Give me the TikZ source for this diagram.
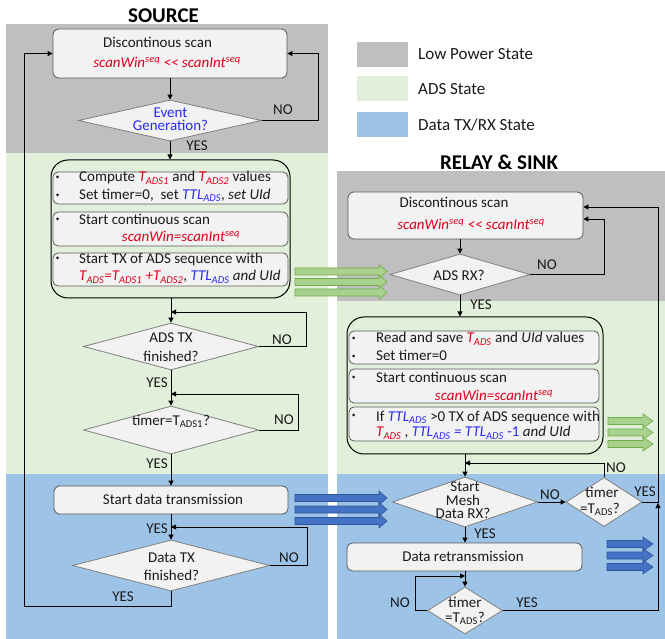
\documentclass[tikz,border=0pt]{standalone}
\usepackage{fontspec}
\setmainfont{Carlito}
\usetikzlibrary{shapes.geometric,arrows.meta}
\definecolor{lpgray}{HTML}{BFBFBF}
\definecolor{adsgreen}{HTML}{E2EFDA}
\definecolor{dtblue}{HTML}{9DC3E6}
\definecolor{boxfill}{HTML}{F2F2F2}
\definecolor{boxline}{HTML}{595959}
\definecolor{dmline}{HTML}{7F7F7F}
\definecolor{txtred}{HTML}{E0001B}
\definecolor{txtblue}{HTML}{2A2AF5}
\definecolor{txtdark}{HTML}{1A1A1A}
\definecolor{garrfill}{HTML}{A9D18E}
\definecolor{garrline}{HTML}{70AD47}
\definecolor{barrfill}{HTML}{4472C4}
\definecolor{barrline}{HTML}{2F5597}
\newcommand{\rT}[1]{\textcolor{txtred}{\itshape T\textsubscript{#1}}}
\newcommand{\bTTL}{\textcolor{txtblue}{\itshape TTL\textsubscript{ADS}}}
\newcommand{\scanred}{\textcolor{txtred}{\itshape scanWin\textsuperscript{seq} <\kern0pt< scanInt\textsuperscript{seq}}}
\newcommand{\scaneq}{\textcolor{txtred}{\itshape scanWin=scanInt\textsuperscript{seq}}}
\newcommand{\blockarrow}[5]{%
  \filldraw[#5] (#1,#4-3.5) -- (#2,#4-3.5) -- (#2,#4-7) -- (#3,#4) -- (#2,#4+7) -- (#2,#4+3.5) -- (#1,#4+3.5) -- cycle;}
\begin{document}
\begin{tikzpicture}[x=1pt,y=-1pt,
  proc/.style={draw=boxline, fill=boxfill, rounded corners=6pt, line width=0.8pt, inner sep=0},
  grpbox/.style={draw=black, rounded corners=17pt, line width=1pt, inner sep=0},
  dec/.style={diamond, draw=dmline, fill=boxfill, line width=0.8pt, inner sep=0},
  txt/.style={inner sep=0, text height=11pt, text depth=2pt, font=\fontsize{15}{18}\selectfont, text=txtdark},
  bul/.style={circle, fill=txtdark, inner sep=0, minimum size=3pt},
  lgd/.style={inner sep=0, anchor=west, font=\fontsize{17}{20}\selectfont, text=txtdark},
  ttl/.style={inner sep=0, font=\fontsize{21}{24}\selectfont\bfseries},
  arr/.style={draw=black, line width=0.9pt, -{Triangle[length=5pt,width=5pt]}},
  garr/.style={fill=garrfill, draw=garrline, line width=0.6pt},
  barr/.style={fill=barrfill, draw=barrline, line width=0.6pt}]
\useasboundingbox (0,0) rectangle (665,639);
% backgrounds
\fill[lpgray] (6,24) rectangle (328,153);
\fill[adsgreen] (6,153) rectangle (328,474);
\fill[dtblue] (6,474) rectangle (328,639);
\fill[lpgray] (337,171) rectangle (665,301);
\fill[adsgreen] (337,301) rectangle (665,474);
\fill[dtblue] (337,474) rectangle (665,639);
% titles
\node[ttl] (tsrc) at (163.5,15.5) {SOURCE};
\node[ttl] (trel) at (499,162.5) {RELAY \& SINK};
% legend
\fill[lpgray] (357,42) rectangle (408,67);
\fill[adsgreen] (357,76) rectangle (408,101);
\fill[dtblue] (357,112) rectangle (408,137);
\node[lgd] (l1) at (418,54) {Low Power State};
\node[lgd] (l2) at (418,89.5) {ADS State};
\node[lgd] (l3) at (418,125) {Data TX/RX State};

% ---------------- SOURCE ----------------
\node[proc, minimum width=234, minimum height=49] (s1) at (170,53.5) {};
\node[txt] at (157.5,43) {Discontinous scan};
\node[txt] at (167,63) {\scanred};
\node[dec, minimum width=183, minimum height=41] (ev) at (170,120.5) {};
\node[txt, text=txtblue] at (170.5,113) {Event};
\node[txt, text=txtblue] at (170.5,126.5) {Generation?};
\node[txt] at (283,110) {NO};
\node[txt] at (197,146.5) {YES};

\node[grpbox, minimum width=239, minimum height=138] (g1) at (170.5,229) {};
\node[proc, rounded corners=5pt, minimum width=235, minimum height=32] (ga) at (170.5,188) {};
\node[proc, rounded corners=5pt, minimum width=235, minimum height=34] (gb) at (170.5,229) {};
\node[proc, rounded corners=5pt, minimum width=235, minimum height=33] (gc) at (170.5,269.5) {};
\node[bul] (b1) at (57.5,177) {};
\node[bul] (b2) at (57.5,195) {};
\node[bul] (b3) at (57.5,219) {};
\node[bul] (b4) at (57.5,258) {};
\node[txt, anchor=west] at (79,177.5) {Compute \rT{ADS1} and \rT{ADS2} values};
\node[txt, anchor=west] at (79,195) {Set timer=0,\ \ set \bTTL, {\itshape set UId}};
\node[txt, anchor=west] at (79,220) {Start continuous scan};
\node[txt] at (181,237) {\scaneq};
\node[txt, anchor=west] at (79,259) {Start TX of ADS sequence with};
\node[txt, anchor=west] at (79,276.5) {\textcolor{txtred}{\itshape T\textsubscript{ADS}=T\textsubscript{ADS1} +T\textsubscript{ADS2}}, \bTTL\ {\itshape and UId}};

\node[dec, minimum width=175, minimum height=47] (dtx) at (171,346.5) {};
\node[txt] at (171,338) {ADS TX};
\node[txt] at (171,357) {finished?};
\node[txt] at (282,340) {NO};
\node[txt] at (157,383) {YES};
\node[dec, minimum width=175, minimum height=48] (tm1) at (171,430) {};
\node[txt] at (171,421) {timer=T\textsubscript{ADS1}?};
\node[txt] at (284,420) {NO};
\node[txt] at (157,463.5) {YES};

\node[proc, minimum width=234, minimum height=28] (sd) at (171,500) {};
\node[txt] at (173,500) {Start data transmission};
\node[dec, minimum width=197, minimum height=51] (dt2) at (171,565.5) {};
\node[txt] at (171.5,558) {Data TX};
\node[txt] at (171.5,576) {finished?};
\node[txt] at (289,558) {NO};
\node[txt] at (157,529) {YES};
\node[txt] at (123,597) {YES};

\coordinate (m1) at (171,312);
\coordinate (m2) at (171,394);
\coordinate (m3) at (171,527);
\coordinate (lp) at (24,53.5);

\draw[arr] (s1.south) -- (ev.north);
\draw[arr] (ev.east) -- ++(57,0) |- (s1.east);
\draw[arr] (ev.south) -- (ev.south |- g1.north);
\draw[arr] (dtx.north |- g1.south) -- (dtx.north);
\draw[arr] (dtx.east) -- ++(48,0) |- (m1);
\draw[arr] (dtx.south) -- (tm1.north);
\draw[arr] (tm1.east) -- ++(40,0) |- (m2);
\draw[arr] (tm1.south) -- (sd.north);
\draw[arr] (sd.south) -- (dt2.north);
\draw[arr] (dt2.east) -- ++(38,0) |- (m3);
\draw[arr] (dt2.south) -- ++(0,15.5) -| (lp) -- (s1.west);

% ---------------- RELAY & SINK ----------------
\node[proc, minimum width=235, minimum height=47] (r1) at (465.5,215.5) {};
\node[txt] at (454,203) {Discontinous scan};
\node[txt] at (471,225) {\scanred};
\node[dec, minimum width=140, minimum height=41] (rx) at (460,274.5) {};
\node[txt] at (459,276) {ADS RX?};
\node[txt] at (547,265) {NO};
\node[txt] at (481,305) {YES};

\node[grpbox, minimum width=256, minimum height=137] (rg) at (475,385.5) {};
\node[proc, rounded corners=5pt, minimum width=250, minimum height=33] (ra) at (474,347.5) {};
\node[proc, rounded corners=5pt, minimum width=250, minimum height=34] (rb) at (474,386) {};
\node[proc, rounded corners=5pt, minimum width=250, minimum height=34] (rc) at (474,424) {};
\node[bul] (b5) at (353.5,338) {};
\node[bul] (b6) at (353.5,356) {};
\node[bul] (b7) at (353.5,377) {};
\node[bul] (b8) at (353.5,415) {};
\node[txt, anchor=west] at (376,338.5) {Read and save \rT{ADS} and {\itshape UId} values};
\node[txt, anchor=west] at (376,356) {Set timer=0};
\node[txt, anchor=west] at (376,378) {Start continuous scan};
\node[txt] at (494,396) {\scaneq};
\node[txt, anchor=west] at (376,416.5) {If \bTTL\ >0 TX of ADS sequence with};
\node[txt, anchor=west] at (376,432.5) {\rT{ADS} , \textcolor{txtblue}{{\itshape TTL\textsubscript{ADS} = TTL\textsubscript{ADS}} -1} {\itshape and UId}};

\node[dec, minimum width=145, minimum height=50] (ms) at (465,502) {};
\node[txt] at (465,487) {Start};
\node[txt] at (463,500.5) {Mesh};
\node[txt] at (463,514) {Data RX?};
\node[dec, minimum width=76, minimum height=49] (tr1) at (604,502) {};
\node[txt] at (602,493) {timer};
\node[txt] at (600,508.5) {=T\textsubscript{ADS}?};
\node[txt] at (550,495) {NO};
\node[txt] at (616,468) {NO};
\node[txt] at (645,492) {YES};
\node[txt] at (485,534) {YES};

\node[proc, minimum width=235, minimum height=28] (dr) at (464.5,557) {};
\node[txt] at (463,557) {Data retransmission};
\node[dec, minimum width=75, minimum height=47] (tr2) at (465,610.5) {};
\node[txt] at (465,603) {timer};
\node[txt] at (465,617.5) {=T\textsubscript{ADS}?};
\node[txt] at (400,603) {NO};
\node[txt] at (527,603) {YES};

\coordinate (m4) at (465,463);
\coordinate (m5) at (465,576);
\coordinate (fbb) at (658,503);
\coordinate (fbt) at (658,502);

\draw[arr] (rx.north |- r1.south) -- (rx.north);
\draw[arr] (rx.east) -- ++(74,0) |- ([yshift=-3.5pt]r1.east);
\draw[arr] (rx.south) -- (rx.south |- rg.north);
\draw[arr] (ms.north |- rg.south) -- (ms.north);
\draw[arr] (tr1.north) |- (m4);
\draw[arr] (ms.east) -- (tr1.west);
\draw[arr] (ms.south) -- (ms.south |- dr.north);
\draw[arr] (tr2.north |- dr.south) -- (tr2.north);
\draw[arr] (tr2.west) -- ++(-12,0) |- (m5);
\draw[arr] (tr2.east) -| (fbb);
\draw[arr] (tr1.east) -- (fbt) |- ([yshift=8.5pt]r1.east);

% block arrows
\foreach \yy in {271.5,282,292.5} {\blockarrow{295}{379}{387}{\yy}{garr}}
\foreach \yy in {421,432.5,444} {\blockarrow{608}{643}{653}{\yy}{garr}}
\foreach \yy in {498,509.5,521} {\blockarrow{295}{379}{387}{\yy}{barr}}
\foreach \yy in {544,555.5,567} {\blockarrow{607}{643}{653}{\yy}{barr}}
\end{tikzpicture}
\end{document}
